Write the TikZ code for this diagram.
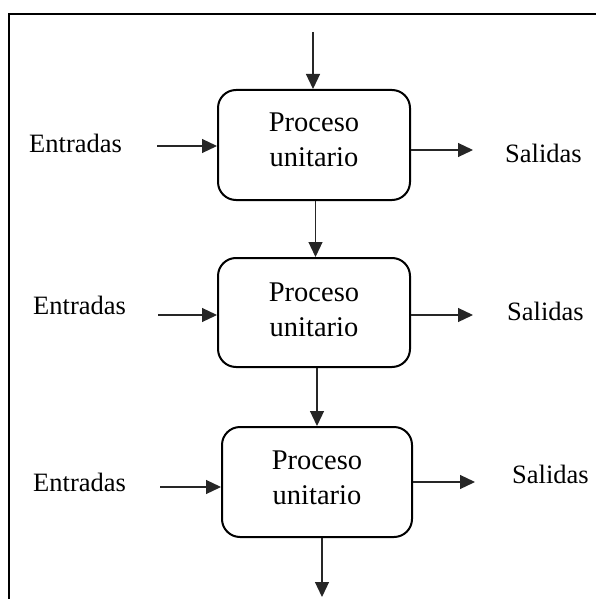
\documentclass[tikz,border=0pt]{standalone}
\usepackage{fontspec}
\setmainfont{Liberation Serif}
\usetikzlibrary{arrows.meta,calc}
\tikzset{
  procbox/.style={draw=black, line width=2pt, rounded corners=18pt, minimum width=192pt, minimum height=110pt, inner sep=0pt},
  proctext/.style={align=center, inner sep=0pt, font=\fontsize{28.5pt}{35pt}\selectfont},
  sidelabel/.style={anchor=base west, inner sep=0pt, font=\fontsize{26.5pt}{32pt}\selectfont},
  arr/.style={draw=black!85, line width=1.2pt, -{Triangle[length=15pt,width=14pt]}},
  frame/.style={draw=black, line width=2.6pt}
}
\begin{document}
\begin{tikzpicture}[x=1pt,y=-1pt]
\useasboundingbox (0,0) rectangle (596,599);
% outer frame (cropped at right and bottom)
\draw[frame] (9,620) -- (9,14) -- (620,14);

% boxes
\node[procbox] (b1) at (314,145) {};
\node[procbox, minimum height=109pt] (b2) at (314,312.5) {};
\node[procbox, minimum width=190pt] (b3) at (317,482) {};

\node[proctext] (t1) at ([yshift=5pt]b1.center) {Proceso\\unitario};
\node[proctext] (t2) at ([yshift=3pt]b2.center) {Proceso\\unitario};
\node[proctext] (t3) at ([yshift=4pt]b3.center) {Proceso\\unitario};

% side labels
\node[sidelabel] (e1) at (29,152) {Entradas};
\node[sidelabel] (e2) at (33,314) {Entradas};
\node[sidelabel] (e3) at (33,491) {Entradas};
\node[sidelabel] (s1) at (505,162) {Salidas};
\node[sidelabel] (s2) at (507,320) {Salidas};
\node[sidelabel] (s3) at (512,483) {Salidas};

% free ends
\coordinate (top) at (313,32);
\coordinate (bot) at (322,597);
\coordinate (ea1) at (157,146);
\coordinate (ea2) at (158,315);
\coordinate (ea3) at (160,487);
\coordinate (sa1) at (473,150);
\coordinate (sa2) at (473,315);
\coordinate (sa3) at (475,482);

% vertical connectors
\draw[arr] (top) -- (top |- b1.north);
\draw[arr] ($(b1.south)+(1.5,0)$) -- ($(b2.north)+(1.5,0)$);
\draw[arr] (b2.south -| b3.north) -- (b3.north);
\draw[arr] (bot |- b3.south) -- (bot);

% inputs
\draw[arr] (ea1) -- (ea1 -| b1.west);
\draw[arr] (ea2) -- (ea2 -| b2.west);
\draw[arr] (ea3) -- (ea3 -| b3.west);

% outputs
\draw[arr] (sa1 -| b1.east) -- (sa1);
\draw[arr] (sa2 -| b2.east) -- (sa2);
\draw[arr] (sa3 -| b3.east) -- (sa3);
\end{tikzpicture}
\end{document}
